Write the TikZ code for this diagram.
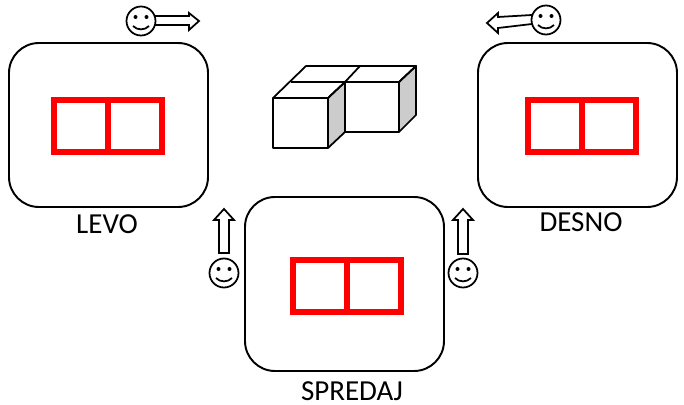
\documentclass[tikz,border=0pt]{standalone}
\usepackage{fontspec}
\setmainfont{Carlito}
\tikzset{
  frame/.style={line width=1.1pt,rounded corners=0.6cm},
  redbox/.style={red,line width=3.4pt},
  cube/.style={line width=1pt,line join=round},
  blockarrow/.style={line width=1pt,fill=white,line join=miter},
  lab/.style={font=\fontsize{16.5pt}{19pt}\selectfont,inner sep=0pt},
  pics/smiley/.style={code={
    \draw [line width=1pt,fill=white] (0,0) circle (14.5);
    \path [fill=black] (-5.5,-4) circle (2);
    \path [fill=black] (5.5,-4) circle (2);
    \draw [line width=1pt] (-8,5) .. controls (-4,9.5) and (4,9.5) .. (8,5);
  }}
}
\begin{document}
\begin{tikzpicture}[x=0.02cm,y=-0.02cm]
\useasboundingbox (0,0) rectangle (684,405);
% frames
\draw [frame] (9,43) rectangle (208,207);
\draw [frame] (478,43) rectangle (677,207);
\draw [frame] (245,197) rectangle (444,371);
% red boxes
\foreach \x/\y in {54/100,528/100,293/260}{
  \draw [redbox] (\x,\y) rectangle (\x+108,\y+52);
  \draw [redbox] (\x+54,\y) -- (\x+54,\y+52);
}
% cubes
\draw [cube,fill=black!20] (328,98)--(345,82)--(345,132)--(328,148)--cycle;
\draw [cube,fill=black!20] (399,82)--(416,66)--(416,115)--(399,132)--cycle;
\draw [cube] (273,98) rectangle (328,148);
\draw [cube] (345,82)--(399,82)--(399,132)--(345,132);
\draw [cube] (273,98)--(306,66)--(416,66)--(399,82);
\draw [cube] (291,82)--(345,82)--(360,66);
\draw [cube] (328,98)--(345,82);
% arrows
\draw [blockarrow] (154,16)--(189,16)--(189,13)--(199,21)--(189,30)--(189,25)--(154,25)--cycle;
\draw [blockarrow] (532,15)--(498,17)--(498,13)--(487,23)--(498,33)--(498,28)--(532,24)--cycle;
\draw [blockarrow] (219,253)--(219,220)--(214,220)--(224,209)--(234,220)--(229,220)--(229,253)--cycle;
\draw [blockarrow] (458,254)--(458,220)--(453,220)--(463,209)--(473,220)--(468,220)--(468,254)--cycle;
% smileys
\pic at (141,21) {smiley};
\pic at (546,20) {smiley};
\pic at (224,273) {smiley};
\pic at (463,273) {smiley};
% labels
\node [lab] (levo) at (107,224) {LEVO};
\node [lab] (desno) at (581,222) {DESNO};
\node [lab] (spredaj) at (352,391) {SPREDAJ};
\end{tikzpicture}
\end{document}
